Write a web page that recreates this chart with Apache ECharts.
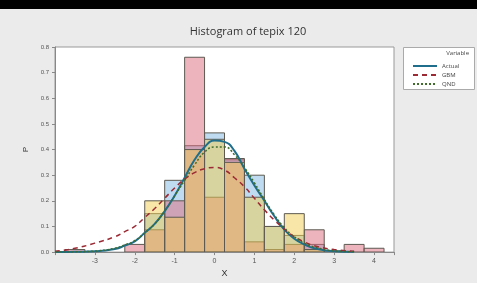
<!DOCTYPE html>
<html>
<head>
<meta charset="utf-8">
<script src="https://cdn.jsdelivr.net/npm/echarts@6/dist/echarts.min.js"></script>
<style>
  html, body { margin: 0; padding: 0; background: #ebebeb; }
  #chart { width: 477px; height: 283px; }
</style>
</head>
<body>
<div id="chart"></div>
<script>
// histogram bins (centre of each 0.5 wide bin)
var binCenters = [-3.5, -3, -2.5, -2, -1.5, -1, -0.5, 0, 0.5, 1, 1.5, 2, 2.5, 3, 3.5, 4];
var actualHist = [0, 0, 0, 0, 0.15, 0.28, 0.415, 0.465, 0.36, 0.30, 0.10, 0.065, 0.03, 0.005, 0, 0];
var gbmHist    = [0.01, 0, 0, 0.03, 0.087, 0.20, 0.76, 0.214, 0.365, 0.04, 0.01, 0.03, 0.087, 0, 0.03, 0.015];
var qndHist    = [0, 0, 0, 0, 0.20, 0.136, 0.40, 0.44, 0.35, 0.214, 0.10, 0.15, 0.01, 0, 0, 0];

// fitted density curves
var curveX      = [-4, -3.5, -3, -2.5, -2.25, -2, -1.75, -1.5, -1.25, -1, -0.75, -0.5, -0.25, 0, 0.25, 0.5, 0.75, 1, 1.25, 1.5, 1.75, 2, 2.25, 2.5, 3, 3.5];
var actualCurve = [0, 0.001, 0.003, 0.012, 0.025, 0.042, 0.075, 0.11, 0.16, 0.22, 0.29, 0.36, 0.41, 0.435, 0.43, 0.395, 0.325, 0.26, 0.2, 0.14, 0.088, 0.052, 0.03, 0.015, 0.003, 0.001];
var gbmCurve    = [0.003, 0.015, 0.035, 0.06, 0.08, 0.1, 0.135, 0.17, 0.21, 0.25, 0.285, 0.31, 0.325, 0.33, 0.32, 0.29, 0.255, 0.21, 0.165, 0.125, 0.09, 0.06, 0.04, 0.025, 0.01, 0.003];
var qndCurve    = [0, 0.001, 0.004, 0.015, 0.028, 0.045, 0.075, 0.11, 0.16, 0.22, 0.28, 0.34, 0.39, 0.41, 0.41, 0.38, 0.33, 0.27, 0.205, 0.145, 0.095, 0.06, 0.035, 0.02, 0.005, 0.001];

var binWidth = 0.5;

function pairs(xs, ys) {
  return xs.map(function (x, i) { return [x, ys[i]]; });
}

function histSeries(name, values, fill) {
  return {
    name: name + ' hist',
    type: 'custom',
    clip: true,
    z: 1,
    data: pairs(binCenters, values),
    renderItem: function (params, api) {
      var c = api.value(0), h = api.value(1);
      if (!(h > 0)) return null;
      var p0 = api.coord([c - binWidth / 2, h]);
      var p1 = api.coord([c + binWidth / 2, 0]);
      return {
        type: 'rect',
        shape: { x: p0[0], y: p0[1], width: p1[0] - p0[0], height: p1[1] - p0[1] },
        style: { fill: fill, stroke: '#5e5a52', lineWidth: 1 }
      };
    }
  };
}

var myChart = echarts.init(document.getElementById('chart'));
myChart.setOption({
  backgroundColor: '#ebebeb',
  animation: false,
  title: {
    text: 'Histogram of tepix 120',
    left: 243,
    textAlign: 'center',
    top: 21,
    textStyle: { fontFamily: 'Open Sans', fontSize: 11, fontWeight: 'normal', color: '#333' }
  },
  graphic: [
    { type: 'rect', left: 0, top: 0, shape: { width: 477, height: 9 }, style: { fill: '#000' } },
    { type: 'rect', left: 403, top: 47, shape: { width: 71, height: 42 }, style: { fill: '#fff', stroke: '#aaa', lineWidth: 1 }, z: 0 },
    { type: 'text', right: 8, top: 50, style: { text: 'Variable', fontSize: 6, fill: '#444', fontFamily: 'Open Sans' } }
  ],
  grid: {
    left: 55,
    right: 83,
    top: 47,
    bottom: 30,
    show: true,
    backgroundColor: '#fff',
    borderColor: '#999',
    borderWidth: 1
  },
  legend: {
    orient: 'vertical',
    left: 407,
    top: 58,
    itemWidth: 24,
    itemHeight: 6,
    itemGap: 3,
    itemStyle: { opacity: 0 },
    textStyle: { fontSize: 6, color: '#444', fontFamily: 'Open Sans' },
    data: ['Actual', 'GBM', 'QND']
  },
  xAxis: {
    type: 'value',
    min: -4,
    max: 4.5,
    interval: 1,
    name: 'X',
    nameLocation: 'middle',
    nameGap: 14,
    nameTextStyle: { fontSize: 9, color: '#333' },
    axisLine: { onZero: false, lineStyle: { color: '#888' } },
    axisTick: { length: 3, lineStyle: { color: '#888' } },
    axisLabel: {
      fontSize: 7,
      color: '#555',
      margin: 5,
      formatter: function (v) { return (v === -4 || v % 1 !== 0) ? '' : String(v); }
    },
    splitLine: { show: false }
  },
  yAxis: {
    type: 'value',
    min: 0,
    max: 0.8,
    interval: 0.1,
    name: 'P',
    nameLocation: 'middle',
    nameRotate: 90,
    nameGap: 24,
    nameTextStyle: { fontSize: 8, color: '#333' },
    axisLine: { show: true, onZero: false, lineStyle: { color: '#888' } },
    axisTick: { show: true, length: 3, lineStyle: { color: '#888' } },
    axisLabel: {
      fontSize: 6,
      color: '#555',
      margin: 6,
      formatter: function (v) { return v.toFixed(1); }
    },
    splitLine: { show: false }
  },
  series: [
    histSeries('Actual', actualHist, 'rgba(110,175,225,0.45)'),
    histSeries('GBM', gbmHist, 'rgba(222,105,125,0.5)'),
    histSeries('QND', qndHist, 'rgba(240,205,80,0.5)'),
    {
      name: 'Actual',
      type: 'line',
      smooth: true,
      symbol: 'none',
      z: 5,
      data: pairs(curveX, actualCurve),
      lineStyle: { color: '#1f6e8c', width: 2 }
    },
    {
      name: 'GBM',
      type: 'line',
      smooth: true,
      symbol: 'none',
      z: 5,
      data: pairs(curveX, gbmCurve),
      lineStyle: { color: '#9c2a34', width: 1.5, type: [5, 4] }
    },
    {
      name: 'QND',
      type: 'line',
      smooth: true,
      symbol: 'none',
      z: 6,
      data: pairs(curveX, qndCurve),
      lineStyle: { color: '#3f6e2c', width: 1.5, type: [2, 2] }
    }
  ]
});
</script>
</body>
</html>
